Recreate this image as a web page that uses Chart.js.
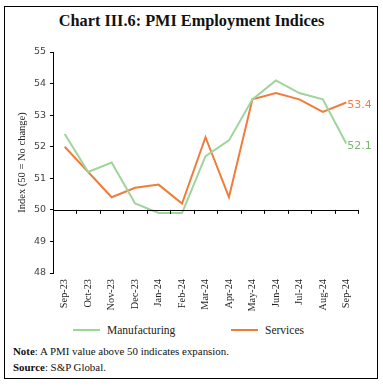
<!DOCTYPE html>
<html>
<head>
<meta charset="utf-8">
<script src="https://cdn.jsdelivr.net/npm/chart.js@4.4.1/dist/chart.umd.min.js"></script>
<style>
  html, body { margin: 0; padding: 0; background: #fff; }
  #wrap { position: relative; width: 383px; height: 386px; overflow: hidden; background:#fff; }
  #frame { position: absolute; left: 4px; top: 6px; width: 372px; height: 371px; border: 1.5px solid #000; }
  #title { position: absolute; left: 0; width: 383px; top: 11px; text-align: center;
    font-family: "Liberation Serif", "DejaVu Serif", serif; font-weight: bold; font-size: 16.3px; color: #111; }
  #cv { position: absolute; left: 0; top: 0; }
  .leg { position: absolute; top: 324px; font-family: "Liberation Serif", serif; font-size: 11.5px; color: #222; white-space: nowrap; }
  .leg span.ln { display: inline-block; width: 27px; height: 2px; vertical-align: middle; margin-right: 7px; position: relative; top: -1px; }
  .note { position: absolute; left: 13px; font-family: "Liberation Serif", serif; font-size: 10.9px; color: #111; white-space: nowrap; }
</style>
</head>
<body>
<div id="wrap">
  <div id="frame"></div>
  <div id="title">Chart III.6: PMI Employment Indices</div>
  <canvas id="cv" width="383" height="320"></canvas>
  <div id="legend"></div>
  <div class="note" style="top:345px"><b>Note</b>: A PMI value above 50 indicates expansion.</div>
  <div class="note" style="top:361px"><b>Source</b>: S&amp;P Global.</div>
</div>
<script>
const categories = ["Sep-23","Oct-23","Nov-23","Dec-23","Jan-24","Feb-24","Mar-24","Apr-24","May-24","Jun-24","Jul-24","Aug-24","Sep-24"];
const manufacturing = [52.4, 51.2, 51.5, 50.2, 49.9, 49.9, 51.7, 52.2, 53.5, 54.1, 53.7, 53.5, 52.1];
const services = [52.0, 51.2, 50.4, 50.7, 50.8, 50.2, 52.3, 50.4, 53.5, 53.7, 53.5, 53.1, 53.4];
const seriesNames = ["Manufacturing", "Services"];
const seriesColors = ["#9fd49b", "#f07c3a"];
const labelColors = ["#79b86f", "#f08048"];
const yTicks = [48, 49, 50, 51, 52, 53, 54, 55];

// HTML legend built from series names
const legendPos = [73, 231];
const lg = document.getElementById('legend');
seriesNames.forEach((n, i) => {
  const d = document.createElement('div');
  d.className = 'leg';
  d.style.left = legendPos[i] + 'px';
  const s = document.createElement('span');
  s.className = 'ln';
  s.style.background = seriesColors[i];
  d.appendChild(s);
  d.appendChild(document.createTextNode(n));
  lg.appendChild(d);
});

const baseLinePlugin = {
  id: 'baseLine',
  afterDatasetsDraw(chart) {
    const {ctx, scales: {x, y}} = chart;
    const y0 = y.getPixelForValue(50);
    ctx.save();
    ctx.strokeStyle = '#000';
    ctx.lineWidth = 1;
    ctx.beginPath();
    ctx.moveTo(x.left, Math.round(y0) + 0.5);
    ctx.lineTo(x.right, Math.round(y0) + 0.5);
    const n = categories.length;
    const step = (x.right - x.left) / n;
    for (let i = 1; i <= n; i++) {
      const px = Math.round(x.left + i * step) + 0.5;
      ctx.moveTo(px, y0);
      ctx.lineTo(px, y0 + 4);
    }
    ctx.stroke();
    // end labels
    ctx.font = '11px "DejaVu Sans", sans-serif';
    ctx.textAlign = 'left';
    ctx.textBaseline = 'middle';
    chart.data.datasets.forEach((ds, di) => {
      const meta = chart.getDatasetMeta(di);
      const last = meta.data[meta.data.length - 1];
      ctx.fillStyle = labelColors[di];
      ctx.fillText(ds.data[ds.data.length - 1].toFixed(1), last.x + 1, last.y + 3);
    });
    ctx.restore();
  }
};

new Chart(document.getElementById('cv'), {
  type: 'line',
  data: {
    labels: categories,
    datasets: [
      { label: seriesNames[0], data: manufacturing, borderColor: seriesColors[0], backgroundColor: seriesColors[0], borderWidth: 2, pointRadius: 0, tension: 0 },
      { label: seriesNames[1], data: services, borderColor: seriesColors[1], backgroundColor: seriesColors[1], borderWidth: 2, pointRadius: 0, tension: 0 }
    ]
  },
  options: {
    responsive: false,
    animation: false,
    layout: { padding: { top: 52, right: 25, left: 0, bottom: 0 } },
    plugins: { legend: { display: false }, tooltip: { enabled: false } },
    scales: {
      x: {
        offset: true,
        grid: { display: false, drawTicks: false },
        border: { display: false },
        ticks: { minRotation: 90, maxRotation: 90, padding: 6, color: '#222',
          font: { family: '"Liberation Serif", serif', size: 10.3 } },
        afterFit(s) { s.height = 320 - 273; }
      },
      y: {
        min: 48, max: 55,
        afterBuildTicks(s) { s.ticks = yTicks.map(v => ({ value: v })); },
        grid: { drawOnChartArea: false, tickLength: 3, tickColor: '#000', lineWidth: 1 },
        border: { display: true, color: '#000', width: 1 },
        ticks: { padding: 4, color: '#444', font: { family: '"DejaVu Sans", sans-serif', size: 9.5 } },
        title: { display: true, text: 'Index (50 = No change)', color: '#222', padding: { top: 16, bottom: 0 },
          font: { family: '"Liberation Serif", serif', size: 10.5 } },
        afterFit(s) { s.width = 53; }
      }
    }
  },
  plugins: [baseLinePlugin]
});
</script>
</body>
</html>
